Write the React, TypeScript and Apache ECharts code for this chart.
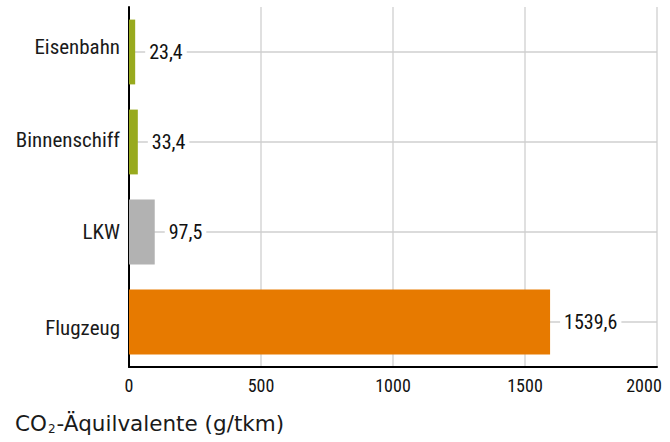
import React, { useEffect, useRef } from "react";
import * as echarts from "echarts";

const categories = ["Eisenbahn", "Binnenschiff", "LKW", "Flugzeug"];
const values = [23.4, 33.4, 97.5, 1595];
const valueLabels = ["23,4", "33,4", "97,5", "1539,6"];
const barColors = ["#98aa1e", "#98aa1e", "#b2b2b2", "#e77a00"];
const xTicks = { min: 0, max: 2000, interval: 500 };

const FONT = "'Roboto Condensed', 'Liberation Sans Narrow', 'Liberation Sans', Arial, sans-serif";
const TITLE_FONT = "'DejaVu Sans', 'Liberation Sans', Arial, sans-serif";

const catStyle = { fontFamily: FONT, fontSize: 21, color: "#1a1a1a" };

export default function App() {
  const ref = useRef<HTMLDivElement>(null);
  useEffect(() => {
    if (!ref.current) return;
    const chart = echarts.init(ref.current, undefined, { renderer: "svg" });
    chart.setOption({
      animation: false,
      grid: { left: 129, right: 13, top: 7, bottom: 75, outerBoundsMode: "none", containLabel: false },
      title: {
        text: "{a|CO}{s|2}{a|-Äquilvalente (g/tkm)}",
        left: 10,
        top: 406,
        textStyle: {
          rich: {
            a: { fontFamily: TITLE_FONT, fontSize: 21.5, fontWeight: "normal", color: "#1a1a1a" },
            s: { fontFamily: TITLE_FONT, fontSize: 12, fontWeight: "normal", color: "#1a1a1a", verticalAlign: "bottom", padding: [12, 1, 0, 1] },
          },
        },
      },
      xAxis: {
        type: "value",
        min: xTicks.min,
        max: xTicks.max,
        interval: xTicks.interval,
        axisLine: { show: true, lineStyle: { color: "#000", width: 2 } },
        axisTick: { show: false },
        axisLabel: {
          fontFamily: FONT,
          fontSize: 18,
          color: "#111",
          margin: 9,
          formatter: (v: number) => (v === xTicks.max ? `{last|${v}}` : String(v)),
          rich: {
            last: { fontFamily: FONT, fontSize: 18, color: "#111", padding: [0, 26, 0, 0] },
          },
        },
        splitLine: { show: true, lineStyle: { color: "#d6d6d6", width: 1.5 } },
      },
      yAxis: {
        type: "category",
        data: categories,
        inverse: true,
        axisLine: { show: true, lineStyle: { color: "#000", width: 2 } },
        axisTick: { show: false },
        axisLabel: {
          ...catStyle,
          margin: 9,
          formatter: (v: string, i: number) => `{c${i}|${v}}`,
          rich: {
            c0: { ...catStyle, padding: [0, 0, 11, 0] },
            c1: { ...catStyle, padding: [0, 0, 4, 0] },
            c2: { ...catStyle },
            c3: { ...catStyle, padding: [12, 0, 0, 0] },
          },
        },
        splitLine: { show: false },
      },
      series: [
        {
          type: "bar",
          z: 1,
          data: categories.map(() => null),
          silent: true,
          markLine: {
            z: 1,
            silent: true,
            symbol: "none",
            label: { show: false },
            lineStyle: { color: "#cfcfcf", width: 1.5, type: "solid" },
            data: categories.map((c) => ({ yAxis: c })),
          },
        },
        {
          type: "bar",
          z: 3,
          barGap: "-100%",
          barCategoryGap: "28%",
          data: values.map((v, i) => ({
            value: v,
            itemStyle: { color: barColors[i] },
            label: { formatter: valueLabels[i] },
          })),
          label: {
            show: true,
            position: "right",
            distance: 10,
            fontFamily: FONT,
            fontSize: 20,
            color: "#111",
            backgroundColor: "#fff",
            padding: [2, 4],
          },
        },
      ],
    });
    return () => chart.dispose();
  }, []);
  return <div ref={ref} style={{ position: "absolute", left: 0, top: 0, width: 670, height: 442 }} />;
}
